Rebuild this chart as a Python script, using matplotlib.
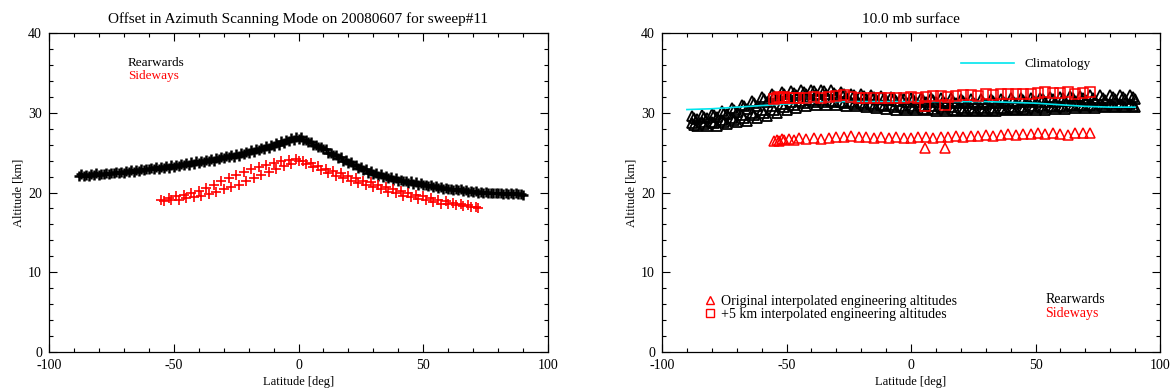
import matplotlib
matplotlib.use('Agg')
import matplotlib.pyplot as plt
from matplotlib.lines import Line2D
from matplotlib.ticker import MultipleLocator

plt.rcParams['font.family'] = ['Liberation Serif', 'DejaVu Serif']
plt.rcParams['axes.unicode_minus'] = False

# ---- left panel: offset in azimuth scanning mode
rear_lat = [-88, -86, -84, -82, -80, -78, -76, -74, -72, -70, -68, -66, -64, -62, -60,
            -58, -56, -54, -52, -50, -48, -46, -44, -42, -40, -38, -36, -34, -32, -30,
            -28, -26, -24, -22, -20, -18, -16, -14, -12, -10, -8, -6, -4, -2, 0,
            2, 4, 6, 8, 10, 12, 14, 16, 18, 20, 22, 24, 26, 28, 30,
            32, 34, 36, 38, 40, 42, 44, 46, 48, 50, 52, 54, 56, 58, 60,
            62, 64, 66, 68, 70, 72, 74, 76, 78, 80, 82, 84, 86, 88, 90]
rear_alt = [22.1, 22.1, 22.1, 22.2, 22.2, 22.3, 22.3, 22.4, 22.4, 22.5, 22.6, 22.6, 22.7, 22.8, 22.9,
            22.9, 23.0, 23.1, 23.1, 23.2, 23.3, 23.4, 23.5, 23.6, 23.7, 23.8, 23.9, 24.0, 24.2, 24.3,
            24.4, 24.5, 24.6, 24.8, 24.9, 25.1, 25.3, 25.4, 25.6, 25.8, 26.0, 26.2, 26.4, 26.6, 26.7,
            26.6, 26.3, 26.0, 25.7, 25.4, 25.0, 24.7, 24.3, 24.0, 23.7, 23.4, 23.1, 22.8, 22.5, 22.3,
            22.1, 21.9, 21.8, 21.6, 21.5, 21.4, 21.2, 21.1, 21.0, 20.9, 20.8, 20.7, 20.6, 20.5, 20.4,
            20.3, 20.3, 20.2, 20.1, 20.1, 20.0, 20.0, 19.9, 19.9, 19.9, 19.8, 19.8, 19.8, 19.8, 19.7]
# a second, slightly offset pass of the rearward scan makes the thick band
rear_lat2 = [-87, -85, -83, -81, -79, -77, -75, -73, -71, -69, -67, -65, -63, -61, -59,
             -57, -55, -53, -51, -49, -47, -45, -43, -41, -39, -37, -35, -33, -31, -29,
             -27, -25, -23, -21, -19, -17, -15, -13, -11, -9, -7, -5, -3, -1, 1,
             3, 5, 7, 9, 11, 13, 15, 17, 19, 21, 23, 25, 27, 29, 31,
             33, 35, 37, 39, 41, 43, 45, 47, 49, 51, 53, 55, 57, 59, 61,
             63, 65, 67, 69, 71, 73, 75, 77, 79, 81, 83, 85, 87, 89]
rear_alt2 = [22.3, 22.2, 22.3, 22.4, 22.3, 22.5, 22.5, 22.6, 22.6, 22.7, 22.8, 22.8, 22.9, 23.0, 23.1,
             23.2, 23.2, 23.3, 23.4, 23.5, 23.6, 23.7, 23.8, 23.9, 24.0, 24.1, 24.2, 24.3, 24.5, 24.6,
             24.7, 24.8, 25.0, 25.1, 25.3, 25.4, 25.6, 25.8, 26.0, 26.2, 26.4, 26.6, 26.8, 26.9, 26.9,
             26.6, 26.3, 26.0, 25.7, 25.4, 25.0, 24.7, 24.4, 24.1, 23.8, 23.5, 23.2, 22.9, 22.7, 22.5,
             22.3, 22.1, 21.9, 21.8, 21.6, 21.5, 21.4, 21.3, 21.2, 21.0, 20.9, 20.8, 20.7, 20.6, 20.5,
             20.4, 20.4, 20.3, 20.2, 20.2, 20.1, 20.1, 20.0, 20.0, 20.0, 19.9, 19.9, 19.9, 19.8]

side_lat = [-55, -52, -49, -46, -43, -40, -37, -34, -31, -28, -25, -22, -19, -16, -13, -10, -7, -4, -1,
            -54, -51, -48, -45, -42, -39, -36, -33, -30, -27, -24, -21, -18, -15, -12, -9, -6, -3, 0,
            2, 5, 8, 11, 14, 17, 20, 23, 26, 29, 32, 35, 38, 41, 44, 47, 50, 53, 56, 59, 62, 65, 68, 71,
            3, 6, 9, 12, 15, 18, 21, 24, 27, 30, 33, 36, 39, 42, 45, 48, 51, 54, 57, 60, 63, 66, 69, 72]
side_alt = [19.1, 19.3, 19.5, 19.7, 19.9, 20.2, 20.6, 21.0, 21.4, 21.8, 22.2, 22.6, 22.9, 23.2, 23.5, 23.7, 23.9, 24.1, 24.2,
            18.9, 19.0, 19.1, 19.3, 19.4, 19.6, 19.8, 20.1, 20.4, 20.7, 21.0, 21.4, 21.8, 22.2, 22.6, 23.0, 23.3, 23.6, 23.9,
            24.0, 23.7, 23.3, 23.0, 22.7, 22.4, 22.1, 21.8, 21.5, 21.3, 21.0, 20.7, 20.4, 20.2, 19.9, 19.7, 19.5, 19.3, 19.1, 18.9, 18.7, 18.5, 18.4, 18.2,
            23.6, 23.2, 22.8, 22.4, 22.1, 21.8, 21.5, 21.2, 20.9, 20.7, 20.4, 20.1, 19.9, 19.6, 19.4, 19.2, 19.0, 18.8, 18.6, 18.5, 18.4, 18.3, 18.2, 18.1]

# ---- right panel: 10.0 mb surface
lat_a = [-88, -84, -80, -76, -72, -68, -64, -60, -56, -52, -48, -44, -40, -36, -32, -28, -24, -20, -16, -12,
         -8, -4, 0, 4, 8, 12, 16, 20, 24, 28, 32, 36, 40, 44, 48, 52, 56, 60, 64, 68, 72, 76, 80, 84, 88]
lat_b = [-86, -82, -78, -74, -70, -66, -62, -58, -54, -50, -46, -42, -38, -34, -30, -26, -22, -18, -14, -10,
         -6, -2, 2, 6, 10, 14, 18, 22, 26, 30, 34, 38, 42, 46, 50, 54, 58, 62, 66, 70, 74, 78, 82, 86, 90]
lat_c = [-87, -83, -79, -75, -71, -67, -63, -59, -55, -51, -47, -43, -39, -35, -31, -27, -23, -19, -15, -11,
         -7, -3, 1, 5, 9, 13, 17, 21, 25, 29, 33, 37, 41, 45, 49, 53, 57, 61, 65, 69, 73, 77, 81, 85, 89]
rear_r1 = [29.6, 29.7, 29.9, 30.2, 30.6, 31.0, 31.5, 32.0, 32.4, 32.6, 32.7, 32.8, 32.9, 32.9, 32.8, 32.6, 32.4, 32.3, 32.2, 32.1,
           32.0, 31.9, 31.9, 31.9, 31.8, 31.8, 31.8, 31.7, 31.7, 31.7, 31.7, 31.7, 31.8, 31.8, 31.9, 31.9, 32.0, 32.0, 32.1, 32.1,
           32.2, 32.2, 32.2, 32.2, 32.2]
rear_r2 = [29.2, 29.3, 29.5, 29.8, 30.1, 30.5, 30.9, 31.3, 31.7, 32.0, 32.2, 32.3, 32.4, 32.3, 32.2, 32.0, 31.9, 31.8, 31.7, 31.6,
           31.5, 31.4, 31.4, 31.3, 31.3, 31.2, 31.2, 31.2, 31.1, 31.1, 31.2, 31.2, 31.2, 31.3, 31.3, 31.4, 31.4, 31.5, 31.5, 31.6,
           31.6, 31.6, 31.7, 31.7, 31.7]
rear_r3 = [28.7, 28.8, 28.9, 29.1, 29.4, 29.7, 30.0, 30.4, 30.8, 31.1, 31.3, 31.5, 31.6, 31.6, 31.5, 31.4, 31.3, 31.2, 31.1, 31.0,
           31.0, 30.9, 30.9, 30.8, 30.8, 30.7, 30.7, 30.6, 30.6, 30.6, 30.6, 30.6, 30.7, 30.7, 30.8, 30.8, 30.9, 30.9, 31.0, 31.0,
           31.0, 31.1, 31.1, 31.1, 31.1]
rear_r4 = [28.3, 28.3, 28.4, 28.6, 28.8, 29.0, 29.3, 29.6, 30.0, 30.3, 30.6, 30.8, 31.0, 31.0, 31.0, 30.9, 30.8, 30.7, 30.6, 30.5,
           30.4, 30.4, 30.3, 30.3, 30.2, 30.2, 30.2, 30.2, 30.2, 30.2, 30.2, 30.3, 30.3, 30.3, 30.4, 30.4, 30.5, 30.5, 30.6, 30.6,
           30.6, 30.7, 30.7, 30.7, 30.7]
rear_r5 = [29.4, 29.5, 29.7, 30.0, 30.4, 30.8, 31.2, 31.7, 32.1, 32.4, 32.5, 32.6, 32.7, 32.7, 32.5, 32.3, 32.2, 32.1, 32.0, 31.9,
           31.8, 31.7, 31.7, 31.6, 31.6, 31.5, 31.5, 31.5, 31.4, 31.4, 31.5, 31.5, 31.5, 31.6, 31.6, 31.7, 31.7, 31.8, 31.8, 31.9,
           31.9, 31.9, 32.0, 32.0, 32.0]
rear_r6 = [28.5, 28.6, 28.7, 28.9, 29.1, 29.4, 29.7, 30.0, 30.4, 30.7, 31.0, 31.2, 31.3, 31.3, 31.3, 31.2, 31.1, 31.0, 30.9, 30.8,
           30.7, 30.6, 30.6, 30.5, 30.5, 30.5, 30.4, 30.4, 30.4, 30.4, 30.4, 30.5, 30.5, 30.5, 30.6, 30.6, 30.7, 30.7, 30.8, 30.8,
           30.8, 30.9, 30.9, 30.9, 30.9]

side_lat_r = [-55, -54, -53, -52, -51, -49, -47, -45, -42, -39, -36, -33, -30, -27, -24, -21, -18, -15, -12, -9, -6, -3,
              0, 3, 5.6, 6, 9, 12, 13.6, 15, 18, 21, 24, 27, 30, 33, 36, 39, 42, 45, 48, 51, 54, 57, 60, 63, 66, 69, 72]
side_orig = [26.4, 26.6, 26.5, 26.7, 26.6, 26.7, 26.6, 26.8, 26.7, 26.8, 26.7, 26.8, 27.0, 26.9, 27.1, 27.0, 26.9, 26.8, 26.9, 26.8, 26.9, 26.8,
             26.8, 26.9, 25.6, 27.0, 26.8, 27.0, 25.6, 27.0, 27.1, 27.0, 27.1, 27.1, 27.2, 27.1, 27.2, 27.3, 27.2, 27.3, 27.3, 27.4, 27.3, 27.5, 27.3, 27.2, 27.4, 27.5, 27.5]
side_plus5 = [31.7, 31.9, 32.0, 31.8, 32.0, 31.9, 31.8, 31.9, 31.8, 32.0, 31.9, 32.0, 32.1, 32.2, 32.0, 31.9, 31.9, 31.9, 31.8, 31.9, 31.9, 31.9,
              32.0, 31.9, 30.8, 32.0, 32.1, 32.1, 31.0, 32.0, 32.1, 32.2, 32.2, 32.1, 32.3, 32.2, 32.3, 32.4, 32.3, 32.4, 32.4, 32.5, 32.6, 32.5, 32.5, 32.6, 32.4, 32.5, 32.6]

clim_lat = [-90, -80, -70, -60, -50, -40, -30, -20, -10, 0, 10, 20, 30, 40, 50, 60, 70, 80, 90]
clim_alt = [30.4, 30.5, 30.7, 30.9, 31.1, 31.3, 31.4, 31.4, 31.4, 31.4, 31.4, 31.4, 31.4, 31.3, 31.2, 31.0, 30.8, 30.7, 30.7]

fig = plt.figure(figsize=(11.74, 3.92), dpi=100)
ax1 = fig.add_axes([49 / 1174, 1 - 352 / 392, 499 / 1174, 319 / 392])
ax2 = fig.add_axes([662 / 1174, 1 - 352 / 392, 498 / 1174, 319 / 392])

ax1.plot(rear_lat, rear_alt, '+', color='black', ms=6.5, mew=1.8, ls='none')
ax1.plot(rear_lat2, rear_alt2, '+', color='black', ms=6.5, mew=1.8, ls='none')
ax1.plot(side_lat, side_alt, '+', color='red', ms=6.5, mew=1.2, ls='none')
ax1.set_title('Offset in Azimuth Scanning Mode on 20080607 for sweep#11', fontsize=11, pad=7)
ax1.text(0.158, 0.905, 'Rearwards', color='black', fontsize=9.5, transform=ax1.transAxes, va='center')
ax1.text(0.158, 0.865, 'Sideways', color='red', fontsize=9.5, transform=ax1.transAxes, va='center')

for lat, row in [(lat_a, rear_r1), (lat_c, rear_r5), (lat_b, rear_r2), (lat_a, rear_r3),
                 (lat_c, rear_r6), (lat_b, rear_r4)]:
    ax2.plot(lat, row, '^', mfc='none', mec='black', ms=6.5, mew=1.3, ls='none')
ax2.plot(clim_lat, clim_alt, color='#00e5ee', lw=1.2)
ax2.plot(side_lat_r, side_plus5, 's', mfc='none', mec='red', ms=6.5, mew=1.1, ls='none')
ax2.plot(side_lat_r, side_orig, '^', mfc='none', mec='red', ms=6.5, mew=1.1, ls='none')
ax2.set_title('10.0 mb surface', fontsize=11, pad=7)

clim_leg = ax2.legend(handles=[Line2D([], [], color='#00e5ee', lw=1.2)], labels=['Climatology'],
                      loc='center left', bbox_to_anchor=(0.6, 0.902), frameon=False, fontsize=9.5,
                      handlelength=4.0, handletextpad=0.8, borderaxespad=0, borderpad=0)
ax2.add_artist(clim_leg)
ax2.legend(handles=[Line2D([], [], marker='^', mfc='none', mec='red', ls='none', ms=5.5),
                    Line2D([], [], marker='s', mfc='none', mec='red', ls='none', ms=5.5)],
           labels=['Original interpolated engineering altitudes', '+5 km interpolated engineering altitudes'],
           loc='upper left', bbox_to_anchor=(0.085, 0.18), frameon=False, fontsize=10,
           handlelength=0.8, handletextpad=0.4, labelspacing=0.05, borderaxespad=0, borderpad=0)
ax2.text(0.77, 0.165, 'Rearwards', color='black', fontsize=10, transform=ax2.transAxes, va='center')
ax2.text(0.77, 0.122, 'Sideways', color='red', fontsize=10, transform=ax2.transAxes, va='center')

for ax in (ax1, ax2):
    ax.set_xlim(-100, 100)
    ax.set_ylim(0, 40)
    ax.xaxis.set_major_locator(MultipleLocator(50))
    ax.xaxis.set_minor_locator(MultipleLocator(10))
    ax.yaxis.set_major_locator(MultipleLocator(10))
    ax.yaxis.set_minor_locator(MultipleLocator(2))
    ax.tick_params(which='both', direction='in', top=True, right=True, labelsize=10)
    ax.tick_params(which='major', length=6, width=0.8, pad=5)
    ax.tick_params(which='minor', length=3, width=0.8)
    ax.set_xlabel('Latitude [deg]', fontsize=9, labelpad=3)
    ax.set_ylabel('Altitude [km]', fontsize=9, labelpad=3)
    for s in ax.spines.values():
        s.set_linewidth(0.9)

fig.savefig('out.png', dpi=100)
